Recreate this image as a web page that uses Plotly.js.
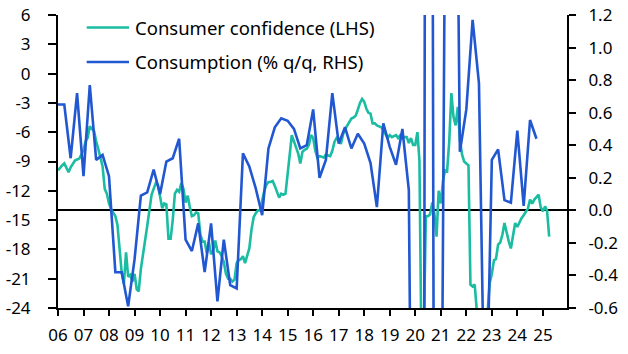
<!DOCTYPE html>
<html>
<head>
<meta charset="utf-8">
<script src="https://cdn.plot.ly/plotly-3.0.1.min.js"></script>
<style>html,body{margin:0;padding:0;background:#fff;}#chart{width:628px;height:354px;}</style>
</head>
<body>
<div id="chart"></div>
<script>
// Consumer confidence (LHS), monthly from Jan 2006
const confStart = [2006, 1];
const consumerConfidence = [
  // 2006
  -9.9, -9.6, -9.4, -9.2, -9.6, -10.1, -9.6, -9.3, -8.9, -8.8, -8.7, -8.3,
  // 2007
  -7.8, -6.9, -6.6, -5.4, -5.7, -5.9, -6.9, -7.9, -8.6, -9.5, -11.8, -12.3,
  // 2008
  -13.3, -13.9, -14.3, -14.6, -15.5, -18.5, -20.4, -21.5, -18.3, -20.8, -20.6, -21.3,
  // 2009
  -20.5, -22.1, -22.3, -20.0, -18.6, -17.4, -15.6, -14.0, -12.4, -11.8, -11.2, -11.4,
  // 2010
  -12.6, -13.8, -13.3, -13.4, -16.9, -16.9, -15.0, -12.3, -11.9, -12.1, -11.2, -11.8,
  // 2011
  -13.2, -12.5, -13.6, -14.6, -14.5, -14.2, -14.3, -16.5, -17.2, -17.2, -18.4, -17.3,
  // 2012
  -18.5, -18.1, -17.1, -18.2, -18.3, -18.7, -19.3, -20.5, -21.0, -21.0, -21.3, -21.1,
  // 2013
  -19.4, -19.1, -19.0, -18.7, -19.4, -18.6, -17.9, -16.0, -14.7, -14.3, -14.0, -14.0,
  // 2014
  -12.8, -12.0, -11.4, -11.1, -11.1, -11.0, -11.5, -12.1, -12.7, -12.3, -12.4, -12.3,
  // 2015
  -9.9, -8.2, -6.3, -7.0, -7.5, -8.2, -9.2, -8.0, -7.8, -7.7, -7.3, -6.3,
  // 2016
  -6.6, -7.9, -8.6, -8.45, -8.5, -8.6, -8.3, -8.4, -8.45, -7.9, -7.0, -6.6,
  // 2017
  -6.8, -7.2, -6.3, -5.7, -5.3, -4.9, -4.6, -4.5, -4.3, -3.7, -3.0, -2.6,
  // 2018
  -2.9, -3.6, -4.0, -4.1, -5.1, -5.1, -5.3, -5.4, -5.5, -5.8, -6.3, -6.6,
  // 2019
  -6.3, -6.5, -6.4, -6.3, -6.6, -6.3, -6.6, -6.5, -6.5, -7.1, -6.6, -7.3,
  // 2020
  -7.3, -6.0, -8.9, -30.0, -27.0, -14.6, -14.6, -14.4, -13.2, -14.4, -16.7, -12.0,
  // 2021
  -13.3, -11.0, -9.9, -10.0, -7.0, -2.0, -4.4, -5.3, -3.4, -6.8, -8.3, -9.0,
  // 2022
  -9.2, -9.4, -21.6, -21.8, -21.6, -23.8, -27.0, -25.0, -28.7, -27.5, -24.8, -21.5,
  // 2023
  -20.5, -19.1, -19.0, -17.5, -17.3, -16.5, -15.3, -16.3, -17.2, -17.9, -16.3, -15.3,
  // 2024
  -15.7, -15.2, -14.8, -14.5, -14.2, -13.8, -12.9, -13.3, -12.9, -12.6, -12.4, -13.7,
  // 2025
  -14.1, -13.6, -14.0, -16.7
];

// Consumption (% q/q, RHS), quarterly from 2006 Q1
const consStart = [2006, 1];
const consumption = [
  0.65, 0.65, 0.32, 0.72,     // 2006
  0.21, 0.77, 0.31, 0.34,     // 2007
  0.21, -0.38, -0.38, -0.59,  // 2008
  -0.30, 0.09, 0.11, 0.25,    // 2009
  0.10, 0.30, 0.32, 0.44,     // 2010
  -0.18, -0.25, -0.08, -0.38, // 2011
  -0.08, -0.56, -0.18, -0.46, // 2012
  -0.48, 0.35, 0.27, 0.135,   // 2013
  -0.03, 0.38, 0.51, 0.565,   // 2014
  0.55, 0.50, 0.38, 0.40,     // 2015
  0.62, 0.20, 0.31, 0.72,     // 2016
  0.41, 0.51, 0.38, 0.47,     // 2017
  0.41, 0.29, 0.02, 0.535,    // 2018
  0.39, 0.28, 0.50, 0.125,    // 2019
  -4.4, -11.6, 14.2, -2.9,    // 2020
  -2.3, 3.9, 4.4, 0.36,       // 2021
  0.62, 1.17, 0.78, -1.6,     // 2022
  0.31, 0.375, 0.063, 0.047,  // 2023
  0.49, 0.027, 0.555, 0.44    // 2024
];

// Axis ticks
const yearTickLabels = ['06','07','08','09','10','11','12','13','14','15','16','17','18','19','20','21','22','23','24','25'];
const leftTickVals = [-24, -21, -18, -15, -12, -9, -6, -3, 0, 3, 6];
const leftTickText = ['-24','-21','-18','-15','-12','-9','-6','-3','0','3','6'];
const rightTickVals = [-0.6, -0.4, -0.2, 0, 0.2, 0.4, 0.6, 0.8, 1.0, 1.2];
const rightTickText = ['-0.6','-0.4','-0.2','0.0','0.2','0.4','0.6','0.8','1.0','1.2'];
const seriesNames = ['Consumer confidence (LHS)', 'Consumption (% q/q, RHS)'];

function pad(n){ return (n < 10 ? '0' : '') + n; }
function monthDate(y, m){ // m: 1-based, may overflow
  const yy = y + Math.floor((m - 1) / 12);
  const mm = ((m - 1) % 12) + 1;
  return yy + '-' + pad(mm) + '-01';
}
const confDates = consumerConfidence.map((_, i) => monthDate(confStart[0], confStart[1] + i));
const consDates = consumption.map((_, i) => monthDate(consStart[0], consStart[1] + 3 * i));
const yearTickVals = yearTickLabels.map((_, i) => (2006 + i) + '-01-01');

const TEAL = '#1ABCA2';
const BLUE = '#2157D1';
const FONT = '"Noto Sans", "Open Sans", sans-serif';

const traces = [
  { x: confDates, y: consumerConfidence, type: 'scatter', mode: 'lines', name: seriesNames[0],
    line: { color: TEAL, width: 2.6 }, yaxis: 'y', showlegend: false },
  { x: consDates, y: consumption, type: 'scatter', mode: 'lines', name: seriesNames[1],
    line: { color: BLUE, width: 2.6 }, yaxis: 'y2', showlegend: false }
];

const legendX0 = 0.0564, legendX1 = 0.1395, legendTextX = 0.1475;
const legendY = [0.9573, 0.8396];

const layout = {
  width: 628, height: 354,
  margin: { l: 58, r: 61, t: 15, b: 46, pad: 0 },
  paper_bgcolor: '#ffffff', plot_bgcolor: '#ffffff',
  font: { family: FONT, size: 17, color: '#000' },
  showlegend: false,
  xaxis: {
    type: 'date', range: ['2006-01-01', '2025-12-12'],
    tickvals: yearTickVals, ticktext: yearTickLabels,
    showgrid: false, zeroline: false,
    showline: true, linecolor: '#000', linewidth: 2,
    ticks: 'outside', ticklen: 6, tickwidth: 2, tickcolor: '#000',
    ticklabelstandoff: 5,
    tickfont: { size: 17 }, fixedrange: true
  },
  yaxis: {
    range: [-24, 6], tickvals: leftTickVals, ticktext: leftTickText,
    showgrid: false, zeroline: false,
    showline: true, linecolor: '#000', linewidth: 2,
    ticks: 'outside', ticklen: 8, tickwidth: 2, tickcolor: '#000',
    ticklabelstandoff: 14,
    tickfont: { size: 17 }, fixedrange: true
  },
  yaxis2: {
    overlaying: 'y', side: 'right', anchor: 'x',
    range: [-0.6, 1.2], tickvals: rightTickVals, ticktext: rightTickText,
    showgrid: false, zeroline: true, zerolinecolor: '#000', zerolinewidth: 2,
    showline: true, linecolor: '#000', linewidth: 2,
    ticks: 'outside', ticklen: 7, tickwidth: 2, tickcolor: '#000',
    ticklabelstandoff: 9,
    tickfont: { size: 17 }, fixedrange: true
  },
  shapes: [
    { type: 'line', xref: 'paper', yref: 'paper', x0: legendX0, x1: legendX1, y0: legendY[0], y1: legendY[0],
      line: { color: TEAL, width: 2.6 } },
    { type: 'line', xref: 'paper', yref: 'paper', x0: legendX0, x1: legendX1, y0: legendY[1], y1: legendY[1],
      line: { color: BLUE, width: 2.6 } }
  ],
  annotations: [
    { xref: 'paper', yref: 'paper', x: legendTextX, y: legendY[0], xanchor: 'left', yanchor: 'middle',
      text: seriesNames[0], showarrow: false, font: { size: 18.5, color: '#000' } },
    { xref: 'paper', yref: 'paper', x: legendTextX, y: legendY[1], xanchor: 'left', yanchor: 'middle',
      text: seriesNames[1], showarrow: false, font: { size: 18.5, color: '#000' } }
  ]
};

Plotly.newPlot('chart', traces, layout, { displayModeBar: false, staticPlot: true });
</script>
</body>
</html>
